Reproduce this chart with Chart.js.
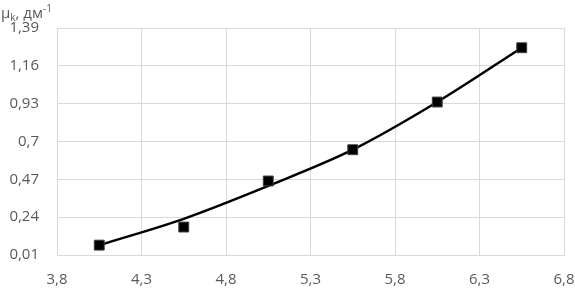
<!DOCTYPE html>
<html>
<head>
<meta charset="utf-8">
<script src="https://cdn.jsdelivr.net/npm/chart.js@4"></script>
<style>
  html, body { margin: 0; padding: 0; background: #fff; }
  #wrap { position: relative; width: 575px; height: 288px; }
  #title {
    position: absolute; left: 1px; top: 0px;
    font-family: "Open Sans", sans-serif; font-size: 15px; color: #595959;
    line-height: 16px; white-space: nowrap;
  }
  #title sub { font-size: 10px; vertical-align: -3px; }
  #title sup { font-size: 10px; vertical-align: 6px; }
</style>
</head>
<body>
<div id="wrap">
  <canvas id="muChart" width="575" height="288"></canvas>
  <div id="title">μ<sub>k</sub>, дм<sup>-1</sup></div>
</div>
<script>
// measured points
const xValues = [4.05, 4.55, 5.05, 5.55, 6.05, 6.55];
const muValues = [0.07, 0.18, 0.46, 0.65, 0.94, 1.27];

// trend curve
const trendX = [4.05, 4.55, 5.05, 5.55, 6.05, 6.55];
const trendY = [0.07, 0.23, 0.43, 0.65, 0.94, 1.27];

const xTicks = [3.8, 4.3, 4.8, 5.3, 5.8, 6.3, 6.8];
const yTicks = [0.01, 0.24, 0.47, 0.7, 0.93, 1.16, 1.39];

function fmt(v) {
	return String(Math.round(v * 100) / 100).replace('.', ',');
}

const ctx = document.getElementById('muChart').getContext('2d');

let points = [];
let trend = [];
for (let i = 0; i < xValues.length; i++) {
	points[i] = { x: xValues[i], y: muValues[i] };
}
for (let i = 0; i < trendX.length; i++) {
	trend[i] = { x: trendX[i], y: trendY[i] };
}

const tickFont = { family: '"Open Sans", sans-serif', size: 15 };

let myChart = new Chart(ctx, {
	type: 'scatter',
	data: {
		datasets: [{
			label: 'trend',
			data: trend,
			showLine: true,
			borderColor: '#000',
			borderWidth: 2.5,
			pointRadius: 0,
			cubicInterpolationMode: 'monotone',
			order: 2
		}, {
			label: 'mu',
			data: points,
			showLine: false,
			pointStyle: 'rect',
			pointRadius: 7,
			pointHoverRadius: 7,
			backgroundColor: '#000',
			borderColor: '#404040',
			borderWidth: 1,
			order: 1
		}]
	},
	options: {
		responsive: false,
		animation: false,
		layout: { padding: { top: 28, right: 11, left: 0, bottom: 0 } },
		plugins: {
			legend: { display: false },
			tooltip: { enabled: false }
		},
		scales: {
			x: {
				type: 'linear',
				min: 3.8,
				max: 6.8,
				afterBuildTicks: (scale) => { scale.ticks = xTicks.map(v => ({ value: v })); },
				afterFit: (scale) => {
					scale.height = 33;
					scale.paddingLeft = 0;
					scale.paddingRight = 0;
				},
				grid: { color: '#d9d9d9', lineWidth: 1, drawTicks: false },
				border: { color: '#d9d9d9' },
				ticks: {
					padding: 16,
					color: '#595959',
					font: tickFont,
					maxRotation: 0,
					callback: (v) => fmt(v)
				}
			},
			y: {
				type: 'linear',
				min: 0.01,
				max: 1.39,
				afterBuildTicks: (scale) => { scale.ticks = yTicks.map(v => ({ value: v })); },
				afterFit: (scale) => {
					scale.width = 57;
					scale.paddingTop = 0;
					scale.paddingBottom = 0;
				},
				grid: { color: '#d9d9d9', lineWidth: 1, drawTicks: false },
				border: { color: '#d9d9d9' },
				ticks: {
					padding: 18,
					color: '#595959',
					font: tickFont,
					callback: (v) => fmt(v)
				}
			}
		}
	}
});
</script>
</body>
</html>
